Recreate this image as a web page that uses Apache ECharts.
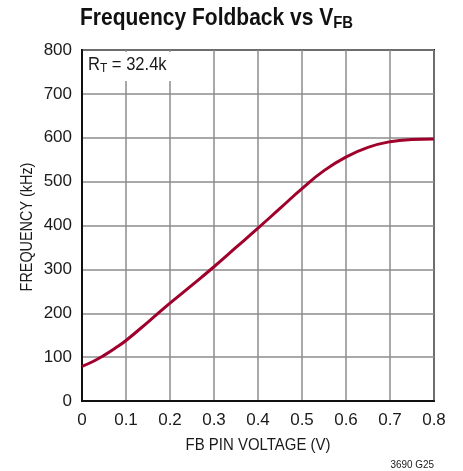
<!DOCTYPE html>
<html>
<head>
<meta charset="utf-8">
<script src="https://cdn.jsdelivr.net/npm/echarts@6/dist/echarts.min.js"></script>
<style>
  html, body { margin: 0; padding: 0; background: #fff; }
  #chart { width: 463px; height: 471px; }
</style>
</head>
<body>
<div id="chart"></div>
<script>
  // FB pin voltage (V) and switching frequency (kHz)
  const fbVoltage = [0, 0.025, 0.05, 0.075, 0.1, 0.15, 0.2, 0.25, 0.3, 0.35, 0.4, 0.45, 0.5, 0.55, 0.6, 0.65, 0.7, 0.75, 0.8]
  const frequency = [79, 90, 104, 120, 138, 180, 223, 264, 306, 350, 394, 439, 484, 525, 556, 578, 591, 596, 597]

  const xTicks = ['0', '0.1', '0.2', '0.3', '0.4', '0.5', '0.6', '0.7', '0.8']
  const yTicks = ['0', '100', '200', '300', '400', '500', '600', '700', '800']

  const font = '"Liberation Sans", Arial, sans-serif'
  const textColor = '#1a1a1a'
  const lineColor = '#a0002c'
  const gridColor = '#8c8c8c'

  const chart = echarts.init(document.getElementById('chart'))

  const options = {
    backgroundColor: '#fff',
    animation: false,
    grid: {
      left: 82,
      right: 29,
      top: 50,
      bottom: 70,
      show: true,
      borderColor: '#111',
      borderWidth: 2,
    },
    xAxis: {
      type: 'value',
      min: 0,
      max: 0.8,
      interval: 0.1,
      axisLine: { show: true, lineStyle: { color: '#111', width: 2 } },
      axisTick: { show: false },
      axisLabel: {
        margin: 11,
        color: textColor,
        fontFamily: font,
        fontSize: 17,
        formatter: (v) => xTicks[Math.round(v * 10)],
      },
      splitLine: { show: true, lineStyle: { color: gridColor, width: 1.5 } },
    },
    yAxis: {
      type: 'value',
      min: 0,
      max: 800,
      interval: 100,
      axisLine: { show: true, lineStyle: { color: '#111', width: 2 } },
      axisTick: { show: false },
      axisLabel: {
        margin: 10,
        color: textColor,
        fontFamily: font,
        fontSize: 17,
        formatter: (v) => yTicks[Math.round(v / 100)],
      },
      splitLine: { show: true, lineStyle: { color: gridColor, width: 1.5 } },
    },
    series: [
      {
        type: 'line',
        smooth: true,
        showSymbol: false,
        lineStyle: { color: lineColor, width: 3 },
        data: fbVoltage.map((v, i) => [v, frequency[i]]),
        z: 5,
      },
    ],
    graphic: [
      // title, squeezed to look like the condensed face of the original
      {
        type: 'text',
        x: 80,
        y: 5,
        scaleX: 0.875,
        style: {
          text: '{t|Frequency Foldback vs V}{s|FB}',
          rich: {
            t: { fontFamily: font, fontWeight: 'bold', fontSize: 24, fill: '#111' },
            s: { fontFamily: font, fontWeight: 'bold', fontSize: 17, fill: '#111', padding: [10, 0, 0, 0] },
          },
        },
      },
      // white box that breaks the grid behind the R_T note
      {
        type: 'rect',
        shape: { x: 84, y: 52, width: 88, height: 29 },
        style: { fill: '#fff' },
        z: 10,
      },
      {
        type: 'text',
        x: 88,
        y: 55,
        scaleX: 0.92,
        z: 11,
        style: {
          text: '{r|R}{s|T}{r| = 32.4k}',
          rich: {
            r: { fontFamily: font, fontSize: 18, fill: textColor },
            s: { fontFamily: font, fontSize: 13, fill: textColor, padding: [7, 0, 0, 0] },
          },
        },
      },
      {
        type: 'text',
        x: 28,
        y: 227,
        rotation: Math.PI / 2,
        scaleX: 0.9,
        style: {
          text: 'FREQUENCY (kHz)',
          fontFamily: font,
          fontSize: 16,
          fill: textColor,
          align: 'center',
          verticalAlign: 'middle',
        },
      },
      {
        type: 'text',
        x: 258,
        y: 445,
        scaleX: 0.88,
        style: {
          text: 'FB PIN VOLTAGE (V)',
          fontFamily: font,
          fontSize: 17,
          fill: textColor,
          align: 'center',
          verticalAlign: 'middle',
        },
      },
      {
        type: 'text',
        x: 434,
        y: 465,
        scaleX: 0.9,
        style: {
          text: '3690 G25',
          fontFamily: font,
          fontSize: 11,
          fill: textColor,
          align: 'right',
          verticalAlign: 'middle',
        },
      },
    ],
  }

  chart.setOption(options)
</script>
</body>
</html>
